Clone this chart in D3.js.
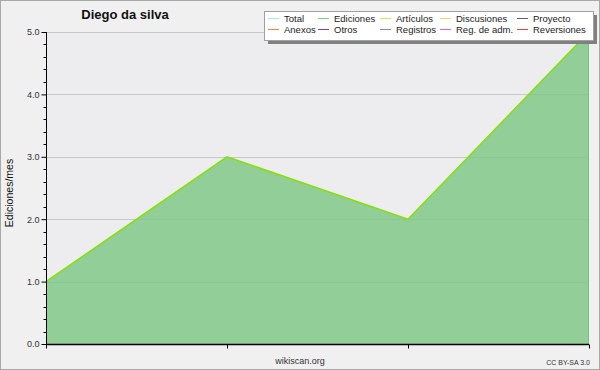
<!DOCTYPE html>
<html>
<head>
<meta charset="utf-8">
<script src="https://cdn.jsdelivr.net/npm/d3@7"></script>
<style>
	body { margin: 0; background: #fff; }
	svg text { font-family: 'Liberation Sans', Arial, sans-serif; }
</style>
</head>
<body>
<div id="chart"></div>
<script>
// data
const months = [0, 1, 2, 3]
const ediciones = [1, 3, 2, 5]
const articulos = [1, 3, 2, 5]
const yTicks = [0, 1, 2, 3, 4, 5]

const legendNames = ['Total', 'Ediciones', 'Artículos', 'Discusiones', 'Proyecto',
	'Anexos', 'Otros', 'Registros', 'Reg. de adm.', 'Reversiones']
const legendColors = ['#a8e4e0', '#80c888', '#c8ec60', '#ffd060', '#606060',
	'#ff8040', '#8040c0', '#8080f0', '#e060e0', '#e04040']

const width = 600
const height = 370
const margin = { left: 46, right: 10, top: 32, bottom: 26 }

const svg = d3.select('#chart')
	.append('svg')
	.attr('width', width)
	.attr('height', height)

// background + frame
svg.append('rect')
	.attr('x', 0.5).attr('y', 0.5)
	.attr('width', width - 1).attr('height', height - 1)
	.attr('fill', '#f0f0f0')
	.attr('stroke', '#a8a8a8')

const x = d3.scaleLinear().domain([0, 3]).range([margin.left, width - margin.right - 1])
const y = d3.scaleLinear().domain([0, 5]).range([height - margin.bottom, margin.top])

// plot area
svg.append('rect')
	.attr('x', x(0)).attr('y', y(5))
	.attr('width', x(3) - x(0)).attr('height', y(0) - y(5))
	.attr('fill', '#ededf0')

// grid
svg.append('g')
	.selectAll('line')
	.data(yTicks.filter(d => d > 0))
	.join('line')
	.attr('x1', x(0)).attr('x2', x(3))
	.attr('y1', d => Math.round(y(d)) + 0.5).attr('y2', d => Math.round(y(d)) + 0.5)
	.attr('stroke', '#c8c8c8')

// area
const area = d3.area()
	.x((d, i) => x(months[i]))
	.y0(y(0))
	.y1(d => y(d))
svg.append('path')
	.datum(ediciones)
	.attr('d', area)
	.attr('fill', '#80c888')
	.attr('fill-opacity', 0.85)

svg.append('line')
	.attr('x1', x(3) - 0.5).attr('x2', x(3) - 0.5)
	.attr('y1', y(ediciones[3])).attr('y2', y(0))
	.attr('stroke', '#78c080')

const line = d3.line()
	.x((d, i) => x(months[i]))
	.y(d => y(d))
svg.append('path')
	.datum(articulos)
	.attr('d', line)
	.attr('fill', 'none')
	.attr('stroke', '#88e000')
	.attr('stroke-width', 1.5)

// y axis
const yAxis = svg.append('g')
	.attr('transform', `translate(${x(0) + 0.5},0)`)
	.call(d3.axisLeft(y).tickValues(yTicks).tickFormat(d3.format('.1f')).tickSize(5).tickPadding(2))
yAxis.select('.domain').attr('stroke', '#000').attr('d', `M0,${y(5)}V${y(0)}`)
yAxis.selectAll('text').attr('font-size', 9).attr('fill', '#333')
svg.append('g')
	.attr('transform', `translate(${x(0) + 0.5},0)`)
	.selectAll('line')
	.data(d3.range(0, 26).map(d => d / 5).filter(d => Math.abs(d - Math.round(d)) > 0.01))
	.join('line')
	.attr('x1', -3).attr('x2', 0)
	.attr('y1', d => Math.round(y(d)) + 0.5).attr('y2', d => Math.round(y(d)) + 0.5)
	.attr('stroke', '#000')

// x axis
const xAxis = svg.append('g')
	.attr('transform', `translate(0,${y(0) + 0.5})`)
	.call(d3.axisBottom(x).tickValues(months).tickFormat('').tickSize(4))
xAxis.select('.domain').attr('d', `M${x(0)},0H${x(3)}`).attr('stroke', '#000').attr('stroke-width', 1.5)

// texts
svg.append('text')
	.attr('x', 125).attr('y', 19)
	.attr('text-anchor', 'middle')
	.attr('font-size', 13).attr('font-weight', 'bold')
	.attr('fill', '#111')
	.text('Diego da silva')

svg.append('text')
	.attr('transform', `translate(13,${(y(0) + y(5)) / 2 + 5}) rotate(-90)`)
	.attr('text-anchor', 'middle')
	.attr('font-size', 10.5)
	.attr('fill', '#111')
	.text('Ediciones/mes')

svg.append('text')
	.attr('x', 300).attr('y', 364)
	.attr('text-anchor', 'middle')
	.attr('font-size', 9)
	.attr('fill', '#333')
	.text('wikiscan.org')

svg.append('text')
	.attr('x', 590).attr('y', 365)
	.attr('text-anchor', 'end')
	.attr('font-size', 7)
	.attr('fill', '#333')
	.text('CC BY-SA 3.0')

// legend
const lg = svg.append('g')
lg.append('rect')
	.attr('x', 268).attr('y', 15)
	.attr('width', 329).attr('height', 29)
	.attr('fill', '#808080')
lg.append('rect')
	.attr('x', 264.5).attr('y', 11.5)
	.attr('width', 329).attr('height', 29)
	.attr('fill', '#fff')
	.attr('stroke', '#a0a0a0')

const colX = [268, 318, 380, 440, 517]
const item = lg.selectAll('g.item')
	.data(legendNames)
	.join('g')
	.attr('class', 'item')
	.attr('transform', (d, i) => `translate(${colX[i % 5]},${i < 5 ? 18 : 29})`)
item.append('line')
	.attr('x1', 0).attr('x2', 11)
	.attr('y1', 0.5).attr('y2', 0.5)
	.attr('stroke', (d, i) => legendColors[i])
item.append('text')
	.attr('x', 16).attr('y', 4)
	.attr('font-size', 9.5)
	.attr('fill', '#222')
	.text(d => d)
</script>
</body>
</html>
